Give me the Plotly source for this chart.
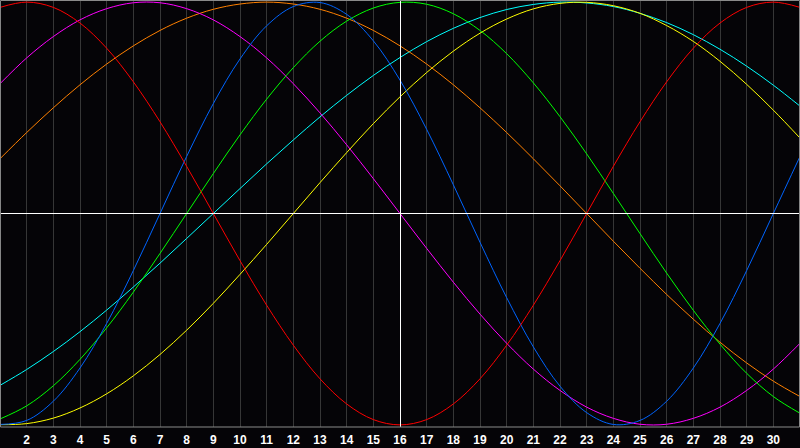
import plotly.graph_objects as go

days = list(range(1, 32))
tick_days = list(range(2, 31))
tick_labels = [str(d) for d in tick_days]

red = [0.975, 1.0, 0.975, 0.901, 0.782, 0.623, 0.434, 0.223, 0.0, -0.223, -0.434, -0.623, -0.782, -0.901, -0.975, -1.0,
       -0.975, -0.901, -0.782, -0.623, -0.434, -0.223, 0.0, 0.223, 0.434, 0.623, 0.782, 0.901, 0.975, 1.0, 0.975]
blue = [-0.998, -0.979, -0.888, -0.731, -0.520, -0.270, 0.0, 0.270, 0.520, 0.731, 0.888, 0.979, 0.998, 0.942, 0.817, 0.631,
        0.398, 0.136, -0.136, -0.398, -0.631, -0.817, -0.942, -0.998, -0.979, -0.888, -0.731, -0.520, -0.270, 0.0, 0.270]
green = [-0.972, -0.910, -0.815, -0.690, -0.541, -0.372, -0.189, 0.0, 0.189, 0.372, 0.541, 0.690, 0.815, 0.910, 0.972, 0.999,
         0.990, 0.945, 0.866, 0.756, 0.618, 0.458, 0.282, 0.095, -0.095, -0.282, -0.458, -0.618, -0.756, -0.866, -0.945]
magenta = [0.614, 0.736, 0.837, 0.916, 0.969, 0.997, 0.997, 0.969, 0.916, 0.837, 0.736, 0.614, 0.476, 0.325, 0.165, 0.0,
           -0.165, -0.325, -0.476, -0.614, -0.736, -0.837, -0.916, -0.969, -0.997, -0.997, -0.969, -0.916, -0.837, -0.736, -0.614]
orange = [0.259, 0.383, 0.5, 0.609, 0.707, 0.793, 0.866, 0.924, 0.966, 0.991, 1.0, 0.991, 0.966, 0.924, 0.866, 0.793,
          0.707, 0.609, 0.5, 0.383, 0.259, 0.131, 0.0, -0.131, -0.259, -0.383, -0.5, -0.609, -0.707, -0.793, -0.866]
cyan = [-0.813, -0.738, -0.653, -0.559, -0.457, -0.348, -0.235, -0.118, 0.0, 0.118, 0.235, 0.348, 0.457, 0.559, 0.653, 0.738,
        0.813, 0.876, 0.927, 0.965, 0.989, 1.0, 0.996, 0.979, 0.947, 0.903, 0.846, 0.777, 0.697, 0.607, 0.508]
yellow = [-0.999, -0.994, -0.968, -0.920, -0.853, -0.768, -0.667, -0.552, -0.425, -0.288, -0.146, 0.0, 0.146, 0.288, 0.425, 0.552,
          0.667, 0.768, 0.853, 0.920, 0.968, 0.994, 0.999, 0.983, 0.947, 0.889, 0.814, 0.720, 0.611, 0.489, 0.357]

today = 16

series = [
    ("cyan", cyan, "#00ffff"),
    ("yellow", yellow, "#ffff00"),
    ("orange", orange, "#ff8000"),
    ("magenta", magenta, "#ff00ff"),
    ("green", green, "#00ff00"),
    ("blue", blue, "#0064ff"),
    ("red", red, "#ff0000"),
]

fig = go.Figure()
for name, vals, col in series:
    fig.add_trace(go.Scatter(x=days, y=vals, mode="lines", name=name,
                             line=dict(color=col, width=1, shape="spline", smoothing=1.0),
                             hoverinfo="skip"))

# 1px-wide white "today" marker, drawn as a filled strip for a crisp edge
px_day = 1 / (800 / 30)
fig.add_shape(type="rect", xref="x", yref="paper", x0=today, x1=today + px_day, y0=0, y1=1,
              fillcolor="#ffffff", line=dict(width=0), layer="above")
fig.add_shape(type="line", xref="paper", yref="y", x0=0, x1=1, y0=0, y1=0,
              line=dict(color="#ffffff", width=1), layer="above")
fig.add_shape(type="rect", xref="paper", yref="paper", x0=0.0006, x1=0.9994, y0=0, y1=0.9988,
              line=dict(color="#8a8a8a", width=1), layer="above")

fig.update_layout(
    width=800, height=448,
    margin=dict(l=0, r=0, t=0, b=21, autoexpand=False),
    paper_bgcolor="#050407",
    plot_bgcolor="#050407",
    showlegend=False,
    xaxis=dict(range=[1, 31], tickvals=tick_days, ticktext=tick_labels,
               showgrid=True, gridcolor="#363636", gridwidth=1, zeroline=False,
               showline=False, ticks="", fixedrange=True, automargin=False,
               ticklabelstandoff=4,
               tickfont=dict(family="Liberation Sans", size=12, color="#ffffff", weight="bold")),
    yaxis=dict(range=[-1.01, 1.01], showgrid=False, zeroline=False, showticklabels=False,
               showline=False, ticks="", fixedrange=True, automargin=False),
)

fig.write_html("out.html", config={"displayModeBar": False},
               post_script="document.body.style.margin='0';document.body.style.overflow='hidden';")
